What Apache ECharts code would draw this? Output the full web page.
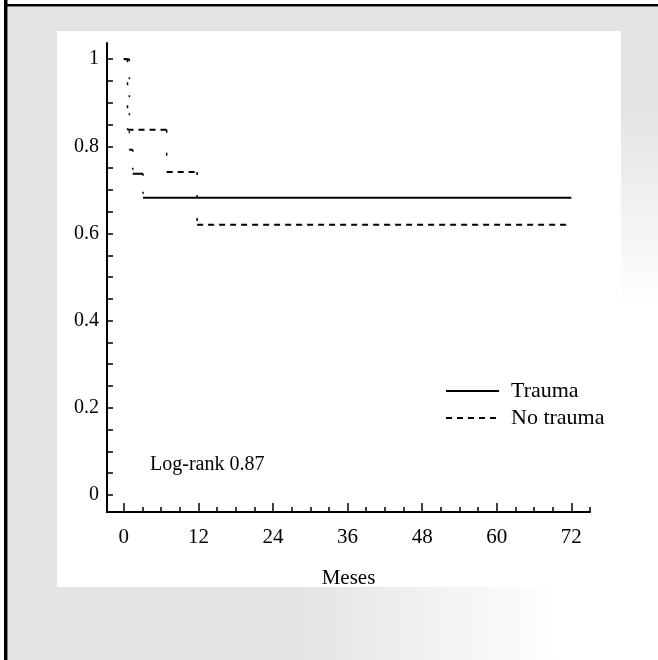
<!DOCTYPE html>
<html><head><meta charset="utf-8">
<script src="https://cdn.jsdelivr.net/npm/echarts@6/dist/echarts.min.js"></script>
<style>html,body{margin:0;padding:0;background:#fff}#c{width:658px;height:660px}</style>
</head><body><div id="c"></div>
<script>
// ---- data (Kaplan-Meier style step curves) ----
const traumaTimes = [0, 0.9, 1.45, 3.1];
const traumaSurv = [1, 0.792, 0.737, 0.682];
const traumaEnd = 72;
const noTraumaTimes = [0, 0.6, 6.9, 11.8];
const noTraumaSurv = [1, 0.838, 0.741, 0.62];
const noTraumaEnd = 71.7;
const xTickLabels = [0, 12, 24, 36, 48, 60, 72];
const xMinorTicks = [0, 3, 6, 9, 12, 15, 18, 21, 24, 27, 30, 33, 36, 39, 42, 45, 48, 51, 54, 57, 60, 63, 66, 69, 72, 75];
const yTickLabels = [0, 0.2, 0.4, 0.6, 0.8, 1];
const yMinorTicks = [0, 0.05, 0.1, 0.15, 0.2, 0.25, 0.3, 0.35, 0.4, 0.45, 0.5, 0.55, 0.6, 0.65, 0.7, 0.75, 0.8, 0.85, 0.9, 0.95, 1];
const seriesNames = ['Trauma', 'No trauma'];
const annotation = 'Log-rank 0.87';
const xAxisTitle = 'Meses';

function horizontalSegments(times, surv, end) {
  const out = [];
  for (let i = 0; i < times.length; i++) {
    const t1 = i + 1 < times.length ? times[i + 1] : end;
    out.push([times[i], surv[i]], [t1, surv[i]], [t1, '-']);
  }
  return out;
}
function verticalDrops(times, surv) {
  const out = [];
  for (let i = 1; i < times.length; i++) {
    out.push([times[i], surv[i - 1]], [times[i], surv[i]], [times[i], '-']);
  }
  return out;
}

const FONT = '"Liberation Serif", "DejaVu Serif", serif';
const GREY = '#e4e4e4';
const chart = echarts.init(document.getElementById('c'), null, {renderer: 'canvas'});

const xBase = {
  type: 'value', min: -2.7, max: 75, position: 'bottom',
  splitLine: {show: false}
};
const option = {
  backgroundColor: '#fff',
  animation: false,
  grid: {left: 107, right: 68, top: 43, bottom: 148, containLabel: false},
  xAxis: [
    Object.assign({}, xBase, {
      axisLine: {show: true, onZero: false, lineStyle: {color: '#000', width: 2}},
      axisTick: {show: true, inside: true, length: 5, customValues: xMinorTicks,
        lineStyle: {color: '#000', width: 1.5}},
      axisLabel: {show: false},
      name: xAxisTitle, nameLocation: 'middle', nameGap: 56,
      nameTextStyle: {color: '#000', fontFamily: FONT, fontSize: 21}
    }),
    Object.assign({}, xBase, {
      axisLine: {show: false, onZero: false},
      axisTick: {show: true, inside: true, length: 9, customValues: xTickLabels,
        lineStyle: {color: '#000', width: 1.5}},
      axisLabel: {
        show: true, margin: 15, color: '#000', fontFamily: FONT, fontSize: 21,
        customValues: xTickLabels
      }
    })
  ],
  yAxis: [{
    type: 'value', min: -0.039, max: 1.037,
    splitLine: {show: false},
    axisLine: {show: true, onZero: false, lineStyle: {color: '#000', width: 2}},
    axisTick: {show: true, inside: true, length: 6, customValues: yMinorTicks,
      lineStyle: {color: '#000', width: 1.5}},
    axisLabel: {
      show: true, margin: 8, color: '#000', fontFamily: FONT, fontSize: 20,
      customValues: yTickLabels,
      formatter: v => String(Math.round(v * 100) / 100)
    }
  }],
  legend: {
    orient: 'vertical', left: 445, top: 380, itemGap: 5, padding: 0,
    itemWidth: 53, itemHeight: 22,
    data: seriesNames,
    itemStyle: {opacity: 0},
    textStyle: {color: '#000', fontFamily: FONT, fontSize: 22, padding: [0, 0, 0, 7]}
  },
  graphic: [
    {type: 'rect', z: -100, shape: {x: 8, y: 7, width: 49, height: 653}, style: {fill: GREY}},
    {type: 'rect', z: -100, shape: {x: 8, y: 7, width: 650, height: 24}, style: {fill: GREY}},
    {type: 'rect', z: -100, shape: {x: 621, y: 7, width: 37, height: 300},
      style: {fill: new echarts.graphic.LinearGradient(0, 0, 0, 1, [
        {offset: 0, color: GREY}, {offset: 0.35, color: GREY}, {offset: 1, color: 'rgba(228,228,228,0)'}])}},
    {type: 'rect', z: -100, shape: {x: 8, y: 587, width: 650, height: 73},
      style: {fill: new echarts.graphic.LinearGradient(0, 0, 1, 0, [
        {offset: 0, color: GREY}, {offset: 0.45, color: GREY}, {offset: 0.85, color: 'rgba(228,228,228,0)'}])}},
    {type: 'rect', z: -90, shape: {x: 4, y: 0, width: 3.5, height: 660}, style: {fill: '#000'}},
    {type: 'rect', z: -90, shape: {x: 4, y: 4, width: 654, height: 2.5}, style: {fill: '#000'}},
    {type: 'text', left: 150, top: 455,
      style: {text: annotation, fill: '#000', font: '20px ' + FONT}}
  ],
  series: [
    {
      name: seriesNames[0], type: 'line', xAxisIndex: 0, yAxisIndex: 0,
      symbol: 'none', connectNulls: false, silent: true,
      lineStyle: {color: '#000', width: 2, type: 'solid'},
      itemStyle: {color: '#000'},
      data: horizontalSegments(traumaTimes, traumaSurv, traumaEnd)
    },
    {
      name: seriesNames[1], type: 'line', xAxisIndex: 0, yAxisIndex: 0,
      symbol: 'none', connectNulls: false, silent: true,
      lineStyle: {color: '#000', width: 1.8, type: [6, 5]},
      itemStyle: {color: '#000'},
      data: horizontalSegments(noTraumaTimes, noTraumaSurv, noTraumaEnd)
    },
    {
      name: 'Trauma drops', type: 'line', xAxisIndex: 0, yAxisIndex: 0,
      symbol: 'none', connectNulls: false, silent: true,
      lineStyle: {color: '#000', width: 1.5, type: [2, 16]},
      data: verticalDrops(traumaTimes, traumaSurv)
    },
    {
      name: 'No trauma drops', type: 'line', xAxisIndex: 0, yAxisIndex: 0,
      symbol: 'none', connectNulls: false, silent: true,
      lineStyle: {color: '#000', width: 1.5, type: [3, 20]},
      data: verticalDrops(noTraumaTimes, noTraumaSurv)
    }
  ]
};
chart.setOption(option);
</script>
</body></html>
